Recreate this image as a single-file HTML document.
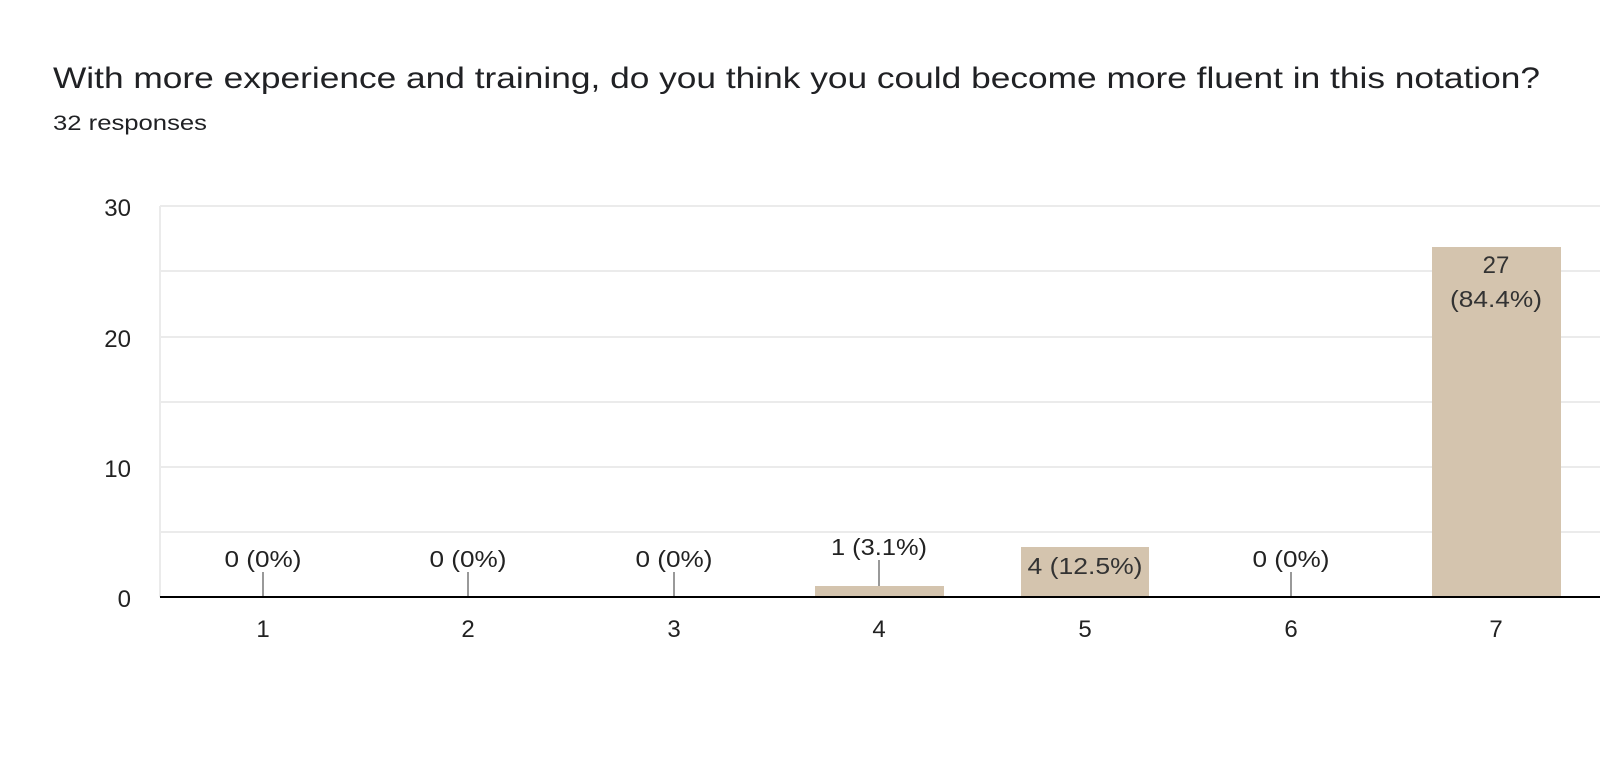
<!DOCTYPE html>
<html><head><meta charset="utf-8"><style>
html,body{margin:0;padding:0;background:#fff;}
svg{display:block;}
text{font-family:"Liberation Sans",Arial,sans-serif;}
</style></head><body>
<svg width="1600" height="761" viewBox="0 0 1600 761" xmlns="http://www.w3.org/2000/svg">
<rect width="1600" height="761" fill="#fff"/>
<text x="53" y="88" font-size="30" fill="#202124" textLength="1487" lengthAdjust="spacingAndGlyphs">With more experience and training, do you think you could become more fluent in this notation?</text>
<text x="53" y="130" font-size="21" fill="#202124" textLength="154" lengthAdjust="spacingAndGlyphs">32 responses</text>
<g stroke="#ebebeb" stroke-width="2">
<line x1="160" y1="206" x2="1600" y2="206"/>
<line x1="160" y1="271" x2="1600" y2="271"/>
<line x1="160" y1="337" x2="1600" y2="337"/>
<line x1="160" y1="402" x2="1600" y2="402"/>
<line x1="160" y1="467" x2="1600" y2="467"/>
<line x1="160" y1="532" x2="1600" y2="532"/>
<line x1="160" y1="206" x2="160" y2="597"/>
</g>
<g font-size="24" fill="#222" text-anchor="end">
<text x="131" y="216">30</text>
<text x="131" y="347">20</text>
<text x="131" y="477">10</text>
<text x="131" y="607">0</text>
</g>
<g fill="#d4c4ae">
<rect x="815" y="586" width="129" height="11"/>
<rect x="1021" y="547" width="128" height="50"/>
<rect x="1432" y="247" width="129" height="350"/>
</g>
<g stroke="#999" stroke-width="2">
<line x1="263" y1="572" x2="263" y2="597"/>
<line x1="468" y1="572" x2="468" y2="597"/>
<line x1="674" y1="572" x2="674" y2="597"/>
<line x1="879" y1="560" x2="879" y2="586"/>
<line x1="1291" y1="572" x2="1291" y2="597"/>
</g>
<line x1="160" y1="597" x2="1600" y2="597" stroke="#000" stroke-width="2"/>
<g font-size="23" fill="#222" text-anchor="middle">
<text x="263" y="567" textLength="77" lengthAdjust="spacingAndGlyphs">0 (0%)</text>
<text x="468" y="567" textLength="77" lengthAdjust="spacingAndGlyphs">0 (0%)</text>
<text x="674" y="567" textLength="77" lengthAdjust="spacingAndGlyphs">0 (0%)</text>
<text x="879" y="555" textLength="96" lengthAdjust="spacingAndGlyphs">1 (3.1%)</text>
<text x="1085" y="574" fill="#333" textLength="115" lengthAdjust="spacingAndGlyphs">4 (12.5%)</text>
<text x="1291" y="567" textLength="77" lengthAdjust="spacingAndGlyphs">0 (0%)</text>
<text x="1496" y="273" fill="#333" font-size="24">27</text>
<text x="1496" y="307" fill="#333" textLength="92" lengthAdjust="spacingAndGlyphs">(84.4%)</text>
</g>
<g font-size="24" fill="#222" text-anchor="middle">
<text x="263" y="637">1</text>
<text x="468" y="637">2</text>
<text x="674" y="637">3</text>
<text x="879" y="637">4</text>
<text x="1085" y="637">5</text>
<text x="1291" y="637">6</text>
<text x="1496" y="637">7</text>
</g>
</svg>
</body></html>
